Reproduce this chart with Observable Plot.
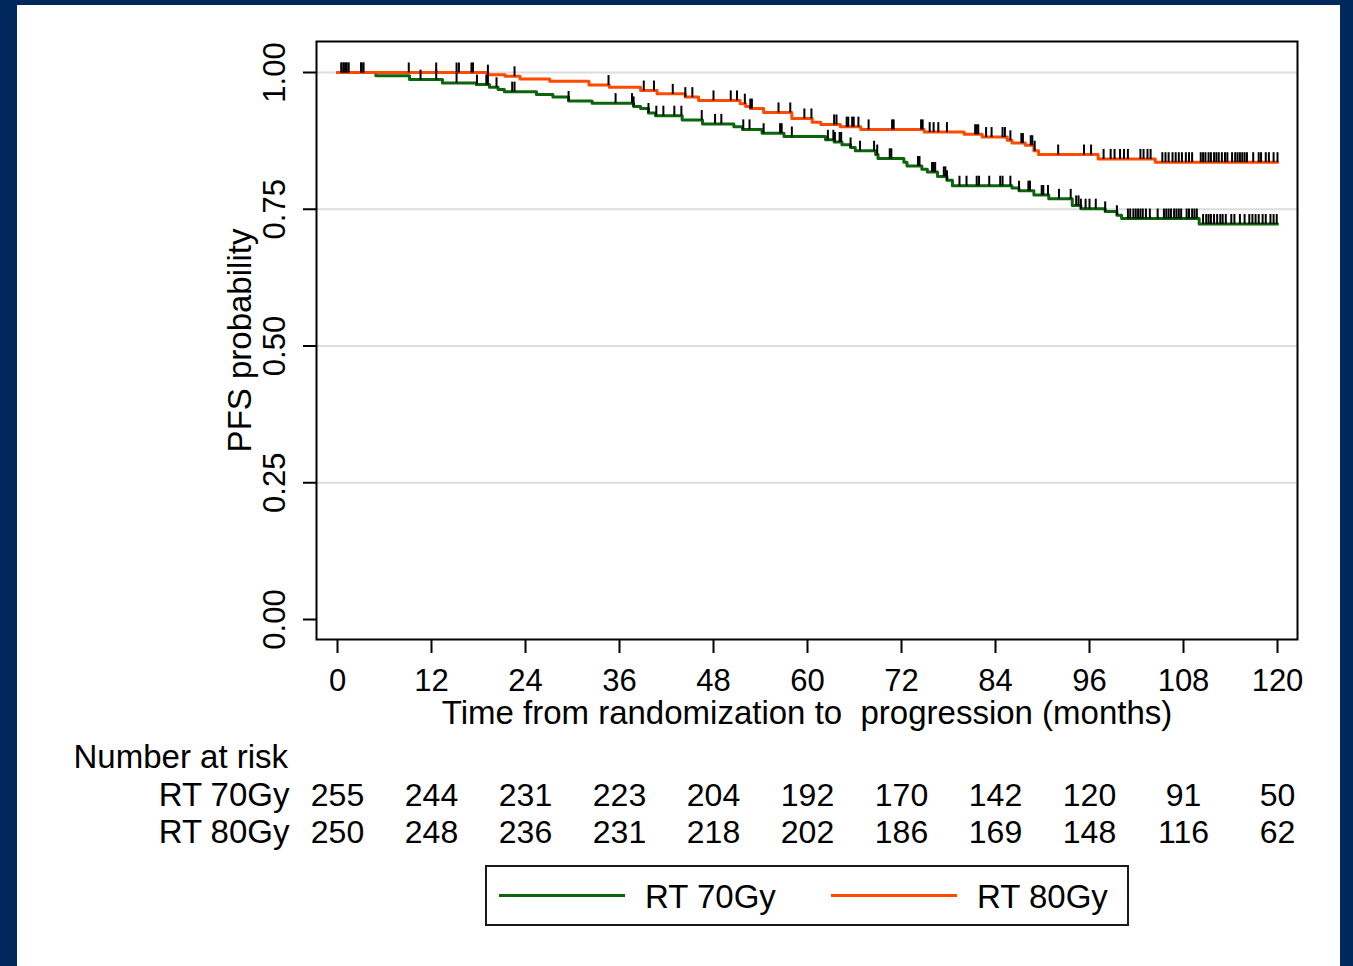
<!DOCTYPE html>
<html><head><meta charset="utf-8">
<script src="https://cdn.jsdelivr.net/npm/d3@7"></script>
<script src="https://cdn.jsdelivr.net/npm/@observablehq/plot@0.6"></script>
<style>
html,body{margin:0;padding:0;}
body{width:1353px;height:966px;background:#01285c;position:relative;overflow:hidden;font-family:"Liberation Sans",Arial,sans-serif;}
#panel{position:absolute;left:17px;top:5px;width:1323px;height:961px;background:#fff;}
#main{position:absolute;left:0;top:0;}
#risk{position:absolute;left:0;top:740px;}
#legend{position:absolute;left:485px;top:865px;width:644px;height:61px;border:2px solid #1a1a1a;box-sizing:border-box;background:#fff;}
.lgline{position:absolute;height:3px;top:27px;width:126px;}
.lgtext{position:absolute;font-size:33px;line-height:33px;top:13px;color:#000;white-space:nowrap;}
</style>
</head><body>
<div id="panel"></div>
<div id="main"></div>
<div id="risk"></div>
<div id="legend">
  <div class="lgline" id="lg1" style="left:12px;"></div>
  <div class="lgtext" id="lt1" style="left:158px;"></div>
  <div class="lgline" id="lg2" style="left:344px;"></div>
  <div class="lgtext" id="lt2" style="left:490px;"></div>
</div>
<script>
const xTicks = [0, 12, 24, 36, 48, 60, 72, 84, 96, 108, 120];
const yTicks = [0, 0.25, 0.5, 0.75, 1];
const gridValues = [0.25, 0.5, 0.75, 1];
const groups = ["RT 70Gy", "RT 80Gy"];
const colors = ["#0b650b", "#ff4a00"];

const time70 = [0, 4.9, 9.2, 13.4, 17.7, 19.4, 20.5, 21.3, 25.4, 27.5, 29.5, 32.5, 37.8, 38.7, 39.7, 40.6, 44.0, 46.6, 50.6, 51.7, 54.2, 57.0, 62.3, 63.4, 64.4, 65.5, 66.1, 68.7, 69.0, 72.3, 72.7, 74.6, 75.3, 76.6, 77.8, 78.5, 86.1, 87.0, 88.9, 90.8, 93.8, 94.9, 98.0, 99.5, 100.1, 110.0, 120];
const surv70 = [1, 0.994, 0.987, 0.981, 0.978, 0.973, 0.969, 0.965, 0.960, 0.955, 0.948, 0.944, 0.938, 0.934, 0.926, 0.921, 0.913, 0.906, 0.901, 0.896, 0.889, 0.883, 0.877, 0.873, 0.868, 0.863, 0.857, 0.850, 0.843, 0.836, 0.829, 0.823, 0.818, 0.810, 0.803, 0.793, 0.789, 0.784, 0.776, 0.769, 0.757, 0.751, 0.746, 0.739, 0.733, 0.723, 0.723];

const time80 = [0, 19.2, 21.4, 23.3, 27.1, 32.1, 34.7, 38.7, 40.8, 44.4, 46.1, 51.4, 52.1, 52.7, 54.4, 58.0, 60.6, 61.7, 64.2, 66.8, 74.9, 80.0, 82.3, 85.5, 86.1, 87.8, 88.9, 89.5, 97.1, 104.4, 120];
const surv80 = [1, 0.996, 0.993, 0.988, 0.984, 0.977, 0.973, 0.967, 0.961, 0.955, 0.949, 0.943, 0.938, 0.934, 0.927, 0.916, 0.909, 0.905, 0.901, 0.896, 0.891, 0.887, 0.882, 0.876, 0.871, 0.867, 0.857, 0.850, 0.842, 0.836, 0.836];

const cens70 = [0.5, 0.8, 1.1, 1.4, 3.0, 3.3, 10.6, 12.6, 15.2, 17.8, 19.0, 19.2, 20.3, 22.3, 22.6, 29.5, 35.5, 37.6, 37.8, 39.7, 40.7, 41.6, 43.0, 43.9, 46.5, 48.2, 49.0, 51.8, 52.6, 54.4, 56.5, 56.7, 58.0, 62.6, 63.3, 63.5, 64.1, 64.3, 65.5, 66.7, 68.5, 68.9, 70.5, 70.7, 74.1, 74.3, 75.9, 76.1, 76.3, 77.4, 77.6, 77.8, 79.4, 80.3, 81.6, 81.9, 83.2, 84.6, 84.9, 85.9, 87.0, 88.2, 88.4, 89.9, 90.1, 90.7, 92.1, 93.6, 94.3, 94.6, 94.9, 95.5, 96.0, 96.8, 98.0, 99.5, 100.9, 101.2, 101.6, 101.9, 102.2, 102.5, 102.8, 103.2, 103.7, 104.7, 105.5, 105.8, 106.1, 106.4, 106.8, 107.1, 107.4, 107.7, 108.4, 108.7, 109.1, 109.4, 109.7, 110.5, 110.9, 111.2, 111.5, 111.9, 112.3, 112.7, 113.0, 113.4, 114.1, 114.5, 115.2, 115.8, 116.4, 116.8, 117.2, 117.6, 118.1, 118.5, 119.1, 119.5, 119.9];
const cens80 = [0.5, 0.8, 1.1, 1.4, 3.0, 3.3, 9.1, 12.6, 15.2, 15.5, 17.1, 17.3, 19.2, 22.6, 34.6, 39.1, 40.4, 42.8, 44.4, 45.3, 48.0, 50.2, 51.0, 52.0, 52.7, 52.9, 56.3, 57.8, 59.6, 60.5, 63.4, 63.7, 65.0, 65.2, 65.7, 65.9, 66.5, 67.8, 70.8, 71.0, 74.5, 74.7, 75.6, 76.1, 76.7, 77.8, 81.4, 81.6, 81.8, 82.8, 83.5, 84.9, 85.2, 85.9, 87.3, 87.5, 88.5, 88.7, 89.0, 92.0, 95.3, 96.2, 97.8, 98.7, 99.2, 99.9, 100.4, 100.9, 102.5, 102.9, 103.4, 103.8, 105.3, 105.7, 106.1, 106.6, 107.0, 107.4, 107.8, 108.3, 108.7, 109.1, 110.2, 110.5, 110.8, 111.2, 111.5, 111.9, 112.2, 112.5, 112.9, 113.3, 113.6, 114.2, 114.6, 114.9, 115.2, 115.5, 115.8, 116.1, 116.9, 117.6, 117.9, 118.5, 118.9, 119.5, 120.0];

const risk70 = [255, 244, 231, 223, 204, 192, 170, 142, 120, 91, 50];
const risk80 = [250, 248, 236, 231, 218, 202, 186, 169, 148, 116, 62];

const xTitle = "Time from randomization to  progression (months)";
const yTitle = "PFS probability";
const riskTitle = "Number at risk";

function steps(times, surv, group) { return times.map((t, i) => ({time: t, surv: surv[i], group})); }
function survAt(times, surv, t) { let s = surv[0]; for (let i = 0; i < times.length; i++) if (times[i] <= t) s = surv[i]; return s; }

const curve70 = steps(time70, surv70, groups[0]);
const curve80 = steps(time80, surv80, groups[1]);
const censored = [
  ...cens70.map(t => ({time: t, surv: survAt(time70, surv70, t), group: groups[0]})),
  ...cens80.map(t => ({time: t, surv: survAt(time80, surv80, t), group: groups[1]}))
];
const riskRows = [
  ...xTicks.map((t, i) => ({time: t, n: risk70[i], group: groups[0]})),
  ...xTicks.map((t, i) => ({time: t, n: risk80[i], group: groups[1]}))
];

const tickSymbol = {draw(ctx, size) { ctx.moveTo(0, 0); ctx.lineTo(0, -10); }};
const font = "Liberation Sans, Arial, sans-serif";

const main = Plot.plot({
  width: 1353, height: 740,
  marginLeft: 316, marginRight: 56, marginTop: 41, marginBottom: 101,
  style: {background: "transparent", fontFamily: font, color: "black", overflow: "visible"},
  x: {domain: [0, 120], insetLeft: 21, insetRight: 20},
  y: {domain: [0, 1], insetTop: 31, insetBottom: 20},
  marks: [
    Plot.ruleY(gridValues, {stroke: "#dcdcdc", strokeWidth: 2}),
    Plot.line(curve70, {x: "time", y: "surv", curve: "step-after", stroke: colors[0], strokeWidth: 3}),
    Plot.line(curve80, {x: "time", y: "surv", curve: "step-after", stroke: colors[1], strokeWidth: 3}),
    Plot.dot(censored, {x: "time", y: "surv", symbol: tickSymbol, r: 5, stroke: "black", fill: "none", strokeWidth: 2}),
    Plot.frame({stroke: "black", strokeWidth: 2}),
    Plot.axisX({ticks: xTicks, tickSize: 14, tickPadding: 15, fontSize: 31, strokeWidth: 2, label: null, tickFormat: d => String(d)}),
    Plot.axisY({ticks: yTicks, tickSize: 13, tickFormat: () => "", strokeWidth: 2, label: null}),
    Plot.text(yTicks, {y: d => d, text: d => d.toFixed(2), frameAnchor: "left", rotate: -90, dx: -41, fontSize: 31, lineAnchor: "middle", textAnchor: "middle"}),
    Plot.text([yTitle], {frameAnchor: "left", rotate: -90, dx: -76, fontSize: 33, lineAnchor: "middle", textAnchor: "middle"}),
    Plot.text([xTitle], {frameAnchor: "bottom", dy: 74, fontSize: 33, lineAnchor: "middle", textAnchor: "middle"})
  ]
});
main.querySelectorAll("text").forEach(t => t.style.whiteSpace = "pre");
document.getElementById("main").appendChild(main);

const risk = Plot.plot({
  width: 1353, height: 120,
  marginLeft: 316, marginRight: 56, marginTop: 0, marginBottom: 0,
  style: {background: "transparent", fontFamily: font, color: "black", overflow: "visible"},
  x: {domain: [0, 120], insetLeft: 21, insetRight: 20, axis: null},
  y: {type: "point", domain: groups, range: [55, 92], padding: 0},
  marks: [
    Plot.axisY({tickSize: 0, tickPadding: 27, fontSize: 33, label: null}),
    Plot.text(riskRows, {x: "time", y: "group", text: d => String(d.n), fontSize: 32, lineAnchor: "middle"}),
    Plot.text([riskTitle], {frameAnchor: "top-left", dx: -243, dy: 17, textAnchor: "start", fontSize: 33, lineAnchor: "middle"})
  ]
});
document.getElementById("risk").appendChild(risk);

document.getElementById("lg1").style.background = colors[0];
document.getElementById("lg2").style.background = colors[1];
document.getElementById("lt1").textContent = groups[0];
document.getElementById("lt2").textContent = groups[1];
</script>
</body></html>
